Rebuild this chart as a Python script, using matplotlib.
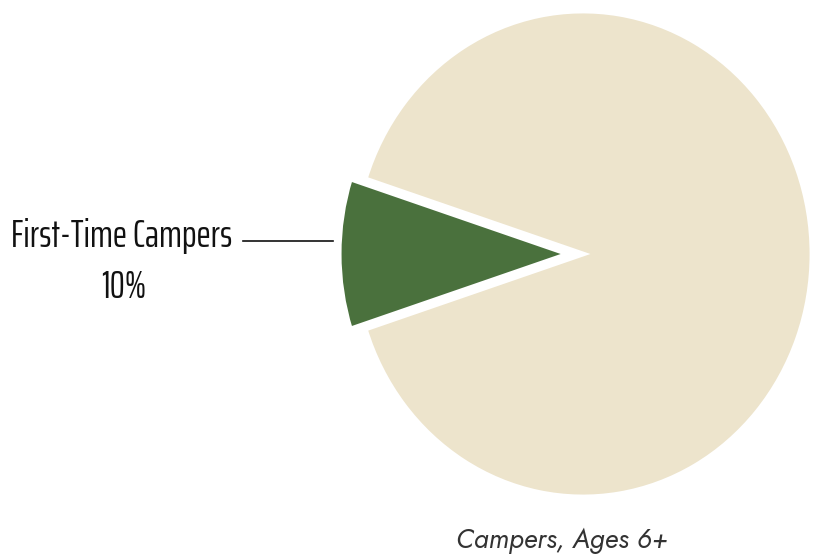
import matplotlib
matplotlib.use("Agg")
import matplotlib.pyplot as plt

# share of campers (ages 6+)
labels = ["First-Time Campers", "Returning Campers"]
shares = [10, 90]
colors = ["#4A713D", "#EDE4CC"]

W, H = 817, 556
fig = plt.figure(figsize=(W / 100, H / 100), dpi=100)

# pie is drawn slightly stretched vertically (rx 229 px, ry 243 px)
cx, cy, rx, ry = 583, 254, 229, 243
xpad = 1.25
ax = fig.add_axes([(cx - rx * xpad) / W, (H - cy - ry) / H,
                   2 * rx * xpad / W, 2 * ry / H])

wedges, _ = ax.pie(shares, colors=colors, startangle=162, counterclock=True,
                   explode=[0.065, 0],
                   wedgeprops=dict(edgecolor="white", linewidth=3.5))
for w in wedges:
    w.set_clip_on(False)
ax.set_aspect("auto")
ax.set_xlim(-xpad, xpad)
ax.set_ylim(-1, 1)
ax.axis("off")

# callout for the highlighted slice
label_font = dict(family="Saira ExtraCondensed", fontweight="normal",
                  fontsize=27.4, color="#111111")
fig.text(232 / W, 1 - 247 / H, labels[0], ha="right", va="baseline", **label_font)
fig.text(124 / W, 1 - 298 / H, f"{shares[0]}%", ha="center", va="baseline", **label_font)
fig.add_artist(plt.Line2D([243 / W, 333 / W], [1 - 241 / H, 1 - 241 / H],
                          color="#111111", linewidth=1.2))

fig.text(562 / W, 1 - 548 / H, "Campers, Ages 6+", ha="center", va="baseline",
         fontsize=19.3, family="Jost", style="italic", fontweight="light",
         color="#333333")

fig.savefig("out.png", dpi=100)
